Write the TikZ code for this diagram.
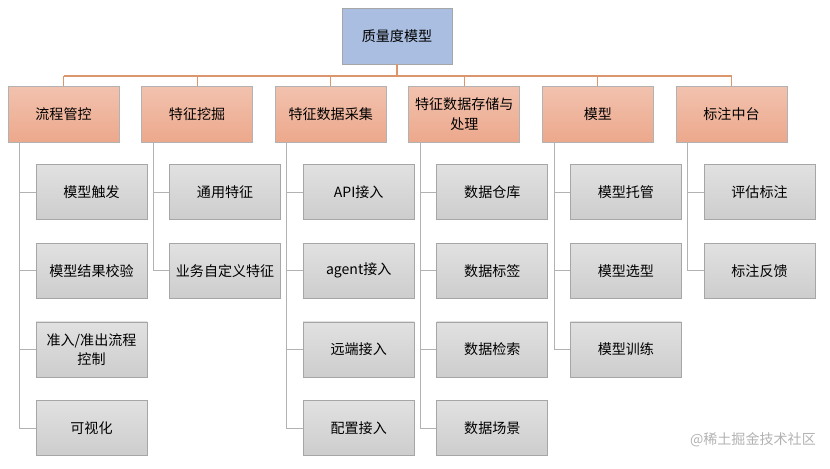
\documentclass[tikz,border=0pt]{standalone}
\usepackage{fontspec}
\newfontfamily\cjk{Noto Sans CJK SC}
\usetikzlibrary{positioning}
\definecolor{toporange}{RGB}{236,168,140}
\definecolor{topblue}{RGB}{170,190,225}
\definecolor{leafgray}{RGB}{205,205,205}
\definecolor{linkorange}{RGB}{220,150,110}
\tikzset{
  rootbox/.style={draw=gray!70, fill=topblue, minimum width=110*0.02cm,
    minimum height=56*0.02cm, align=center, font=\cjk\fontsize{8}{10}\selectfont},
  headbox/.style={draw=gray!60, top color=toporange!70, bottom color=toporange,
    minimum width=111*0.02cm, minimum height=56*0.02cm, align=center,
    inner sep=1pt, font=\cjk\fontsize{8}{11}\selectfont},
  leafbox/.style={draw=gray!70, top color=leafgray!60, bottom color=leafgray,
    minimum width=111*0.02cm, minimum height=55*0.02cm, align=center,
    inner sep=1pt, font=\cjk\fontsize{8}{11}\selectfont},
  bus/.style={draw=linkorange, line width=0.6pt},
  link/.style={draw=gray!60, line width=0.5pt}
}
\begin{document}
\begin{tikzpicture}[x=0.02cm, y=-0.02cm]
\useasboundingbox (0,0) rectangle (830,468);
\node (root) [rootbox] at (397,36) {质量度模型};
\coordinate (busmid) at (397,76);
\draw[bus] (root.south) -- (busmid);
\draw[bus] (63.5,76) -- (731.5,76);
% heads and their leaves
\foreach \i/\head/\leaves in {
  1/流程管控/{模型触发,模型结果校验,准入/准出流程\\控制,可视化},
  2/特征挖掘/{通用特征,业务自定义特征},
  3/特征数据采集/{API接入,agent接入,远端接入,配置接入},
  4/特征数据存储与\\处理/{数据仓库,数据标签,数据检索,数据场景},
  5/模型/{模型托管,模型选型,模型训练},
  6/标注中台/{评估标注,标注反馈}} {
  \node (h\i) [headbox] at ({63.5+133.6*(\i-1)},114) {\head};
  \draw[bus] (h\i.north) -- ++(0,-10);
  \foreach \leaf [count=\j] in \leaves {
    \node (l\i\j) [leafbox] at ({91.5+133.6*(\i-1)},{192+78.7*(\j-1)}) {\leaf};
    \draw[link] ([xshift=12*0.02cm]h\i.south west) |- (l\i\j.west);
  }
}
\node (mark) [font=\cjk\fontsize{8}{10}\selectfont, text=gray!60, anchor=east] at (822,440) {@稀土掘金技术社区};
\end{tikzpicture}
\end{document}
